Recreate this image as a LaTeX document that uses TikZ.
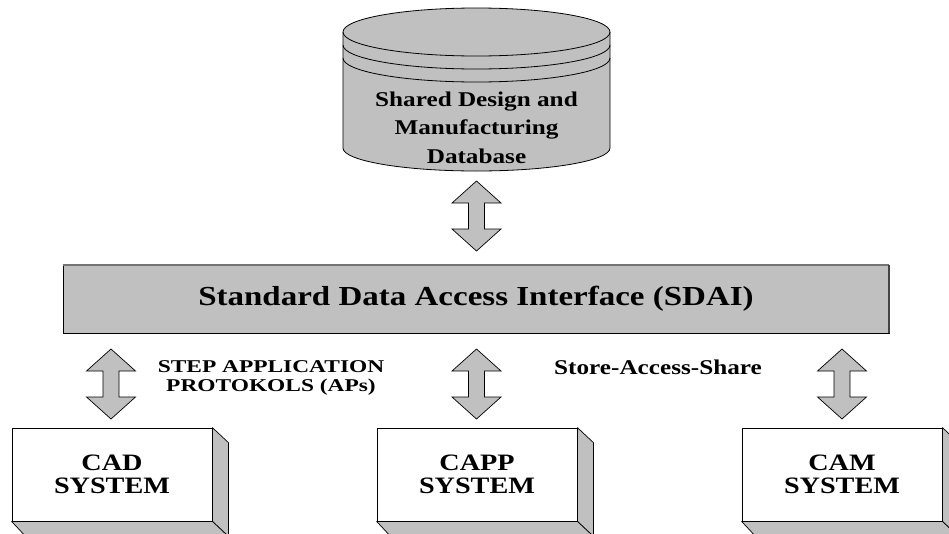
\documentclass[tikz,border=0pt]{standalone}
\usepackage{fontspec}
\setmainfont{Liberation Serif}[FakeStretch=1.2]
\newfontfamily\widefont{Liberation Serif}[FakeStretch=1.3]
\usetikzlibrary{calc}
\definecolor{panel}{HTML}{C0C0C0}
\definecolor{rimlight}{HTML}{747474}
\definecolor{rimdark}{HTML}{444444}

\tikzset{
  outline/.style={draw=black, line width=0.8pt},
  arrowshape/.style={fill=panel, draw=black, line width=0.7pt, line join=miter},
  sideface/.style={fill=panel, draw=black, line width=0.7pt, line join=round},
  dbtext/.style={align=center, inner sep=0pt, font=\bfseries\fontsize{21}{28.5}\selectfont},
  sdaibox/.style={fill=panel, draw=black, line width=0.7pt, minimum width=826pt, minimum height=68pt, inner sep=0pt,
    font=\bfseries\fontsize{27.5}{32}\selectfont},
  sysbox/.style={fill=white, draw=black, line width=0.8pt, minimum width=200pt, minimum height=93pt, inner sep=0pt,
    align=center, font=\bfseries\fontsize{23.5}{23}\selectfont},
  steptext/.style={align=center, inner sep=0pt, font=\widefont\bfseries\fontsize{18}{18.5}\selectfont},
  storetext/.style={inner sep=0pt, font=\bfseries\fontsize{21}{25}\selectfont},
}

% vertical double block arrow between two named points (#1 above #2)
\newcommand\blockarrow[2]{%
  \draw[arrowshape] let \p1=(#1), \p2=(#2) in
    (\x1,\y1) -- (\x1+24.5pt,\y1-22pt) -- (\x1+8pt,\y1-22pt) -- (\x1+8pt,\y2+22pt)
    -- (\x1+24.5pt,\y2+22pt) -- (\x1,\y2) -- (\x1-24.5pt,\y2+22pt) -- (\x1-8pt,\y2+22pt)
    -- (\x1-8pt,\y1-22pt) -- (\x1-24.5pt,\y1-22pt) -- cycle;}

% extruded sides of a system box (right face and bottom face)
\newcommand\boxdepth[1]{%
  \draw[sideface] (#1.north east) -- ++(16,15) -- ($(#1.south east)+(16,15)$) -- (#1.south east) -- cycle;
  \draw[sideface] (#1.south west) -- (#1.south east) -- ++(16,15) -- ($(#1.south west)+(14,15)$) -- cycle;}

\begin{document}
\begin{tikzpicture}[x=1pt, y=-1pt]
\useasboundingbox (0,0) rectangle (949,533);
\clip (0,0) rectangle (949,533);

% database cylinder
\fill[panel] (343,32) -- (343,148) arc[start angle=180, end angle=360, x radius=133.5pt, y radius=23pt]
  -- (610,32) arc[start angle=0, end angle=180, x radius=133.5pt, y radius=24pt] -- cycle;
\draw[outline] (343,32) -- (343,148) arc[start angle=180, end angle=360, x radius=133.5pt, y radius=23pt] -- (610,32);
\draw[outline] (476.5,32) ellipse [x radius=133.5pt, y radius=24pt];
\draw[outline] (343,45) arc[start angle=180, end angle=360, x radius=133.5pt, y radius=24pt];
\draw[outline] (343,58) arc[start angle=180, end angle=360, x radius=133.5pt, y radius=24pt];
\node[dbtext] (db) at (476.5,127.5) {Shared Design and\\Manufacturing\\Database};

% access interface bar
\node[sdaibox] (sdai) at (476,299) {Standard Data Access Interface (SDAI)};
\draw[rimlight, line width=2pt] (sdai.north west) -- (sdai.north east);
\draw[rimdark, line width=2pt] (sdai.north east) -- (sdai.south east);

% application systems
\node[sysbox] (cad)  at (112,474.5) {CAD\\SYSTEM};
\node[sysbox] (capp) at (477,474.5) {CAPP\\SYSTEM};
\node[sysbox] (cam)  at (842,474.5) {CAM\\SYSTEM};
\boxdepth{cad}
\boxdepth{capp}
\boxdepth{cam}

% arrow end points
\coordinate (dbA) at (476.5,181);
\coordinate (dbB) at (476.5,251);
\coordinate (cadA) at (111,349);
\coordinate (cadB) at (111,419);
\coordinate (cappA) at (476.5,349);
\coordinate (cappB) at (476.5,419);
\coordinate (camA) at (842,349);
\coordinate (camB) at (842,419);
\blockarrow{dbA}{dbB}
\blockarrow{cadA}{cadB}
\blockarrow{cappA}{cappB}
\blockarrow{camA}{camB}

% labels
\node[steptext] (steplbl) at (271,378) {STEP APPLICATION\\PROTOKOLS (APs)};
\node[storetext] (storelbl) at (658,367) {Store-Access-Share};
\end{tikzpicture}
\end{document}
